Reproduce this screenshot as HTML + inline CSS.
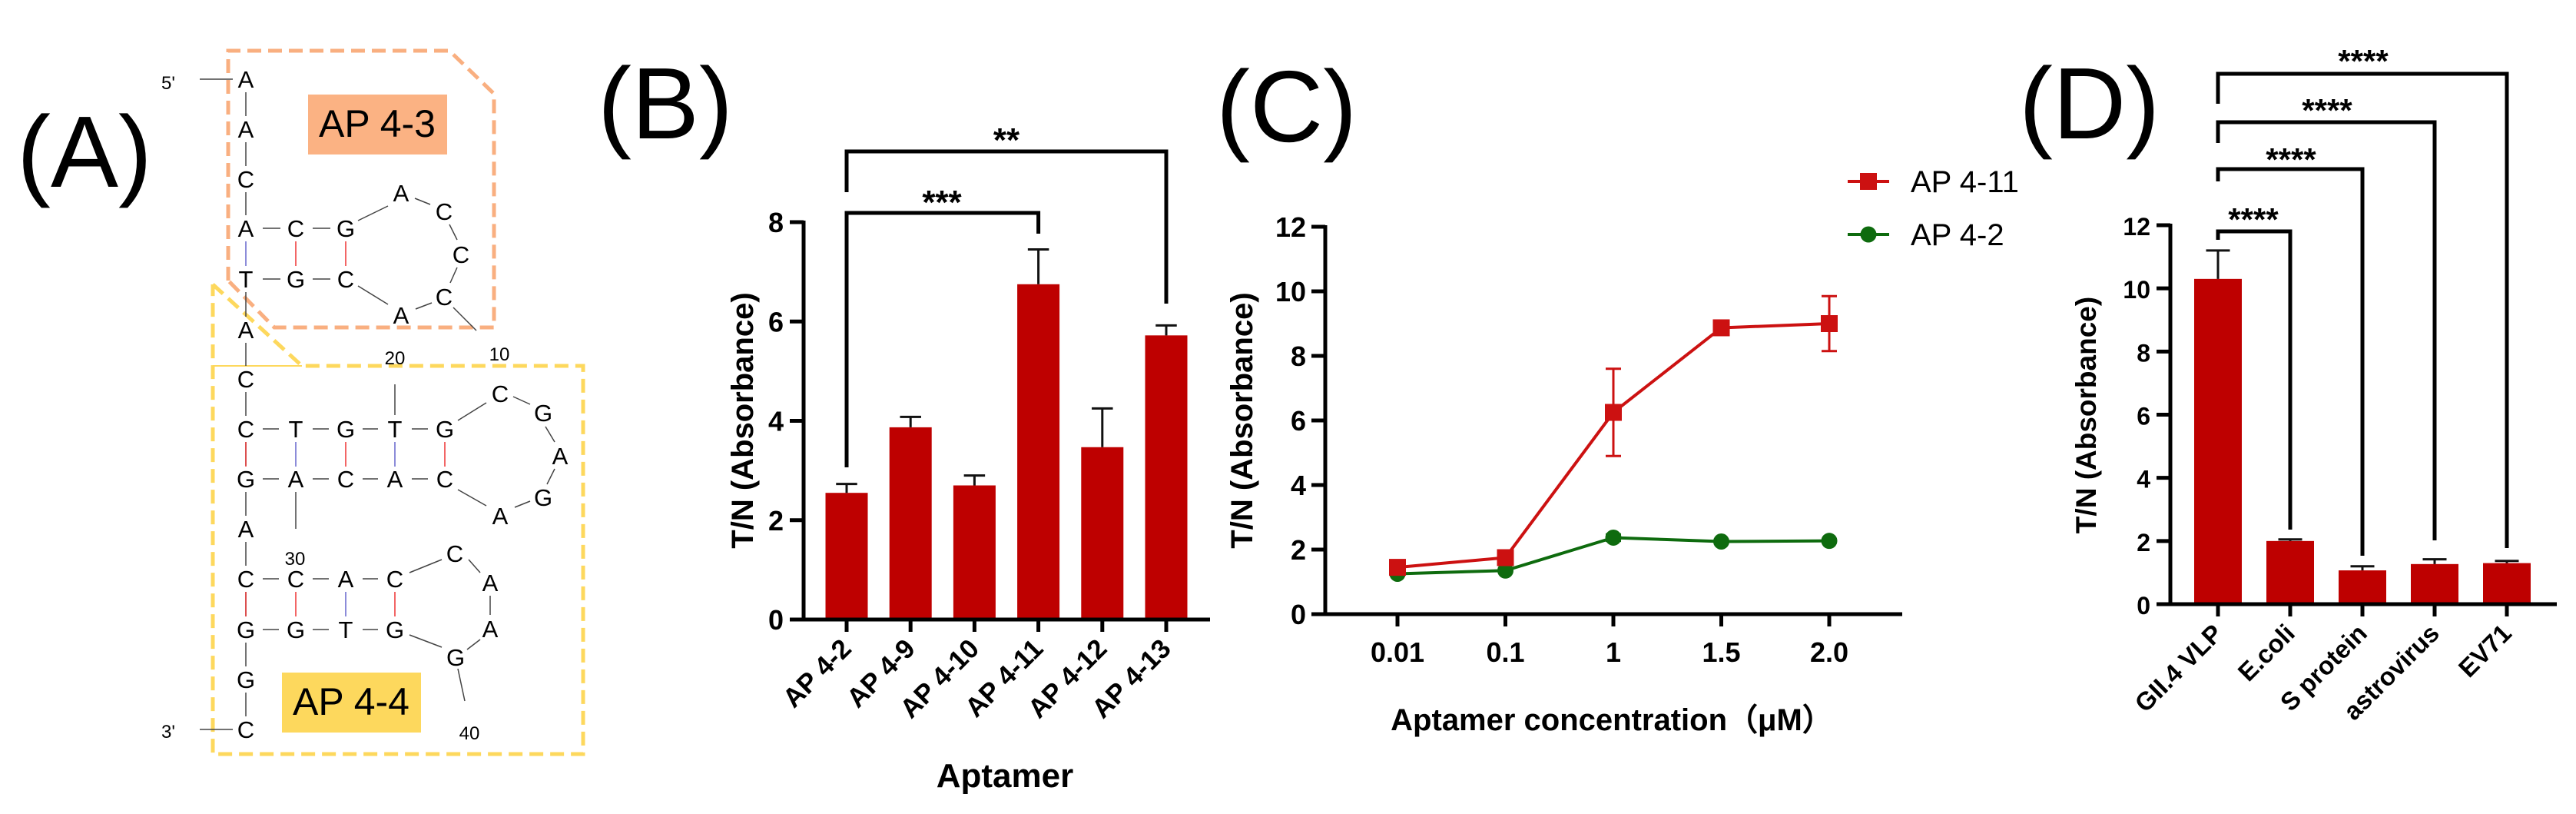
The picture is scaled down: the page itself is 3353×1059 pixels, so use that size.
<!DOCTYPE html>
<html><head><meta charset="utf-8"><style>
html,body{margin:0;padding:0;background:#fff;}
svg{display:block;}
text{font-family:"Liberation Sans",Arial,sans-serif;}
</style></head><body>
<svg id="fig" width="3353" height="1059" viewBox="0 0 3353 1059" xmlns="http://www.w3.org/2000/svg">
<rect width="3353" height="1059" fill="#fff"/>
<text x="22" y="243" font-size="132">(A)</text>
<text x="778" y="180" font-size="132">(B)</text>
<text x="1583" y="184" font-size="132">(C)</text>
<text x="2628" y="180" font-size="132">(D)</text>

<g id="panelA">
  <polyline points="297,365 297,66 585,66 643,122 643,426 357,426 297,365" fill="none" stroke="#F9AF80" stroke-width="5" stroke-dasharray="18,9"/>
  <polyline points="277,370 393,476 759,476 759,981 277,981 277,370" fill="none" stroke="#FDD85D" stroke-width="5" stroke-dasharray="18,9"/>
  <line x1="277" y1="476" x2="393" y2="476" stroke="#FDD85D" stroke-width="2"/>
  <rect x="401" y="123" width="181" height="78" fill="#FBB283"/>
  <text x="491" y="178" font-size="50" text-anchor="middle">AP 4-3</text>
  <rect x="367" y="875" width="181" height="78" fill="#FDD85D"/>
  <text x="457" y="930" font-size="50" text-anchor="middle">AP 4-4</text>
  <g id="seqA" stroke="#444" stroke-width="1.5"></g>
</g>

<g id="panelB"></g>
<g id="panelC"></g>
<g id="panelD"></g>
</svg>
<script>
const bCategories = ["AP 4-2","AP 4-9","AP 4-10","AP 4-11","AP 4-12","AP 4-13"];
const bValues = [2.55, 3.87, 2.70, 6.75, 3.47, 5.72];
const bErrors = [0.18, 0.21, 0.20, 0.70, 0.78, 0.20];
const bTicks = [0, 2, 4, 6, 8];
const cCategories = ["0.01","0.1","1","1.5","2.0"];
const cRed = [1.45, 1.75, 6.25, 8.87, 9.00];
const cRedErr = [0.1, 0.1, 1.35, 0.1, 0.85];
const cGreen = [1.25, 1.35, 2.37, 2.25, 2.27];
const cGreenErr = [0.05, 0.05, 0.1, 0.05, 0.05];
const cTicks = [0, 2, 4, 6, 8, 10, 12];
const dCategories = ["GII.4 VLP","E.coli","S protein","astrovirus","EV71"];
const dValues = [10.3, 2.0, 1.07, 1.27, 1.3];
const dErrors = [0.9, 0.05, 0.13, 0.15, 0.07];
const dTicks = [0, 2, 4, 6, 8, 10, 12];

const NS = "http://www.w3.org/2000/svg";
function mk(parent, tag, attrs, txt){
  const e = document.createElementNS(NS, tag);
  for (const k in attrs) e.setAttribute(k, attrs[k]);
  if (txt !== undefined) e.textContent = txt;
  parent.appendChild(e);
  return e;
}

(function(){
  const g = document.getElementById('seqA');
  const P = document.getElementById('panelA');
  const col = [320,385,450,514,579];
  const rows = ["A","A","C","A","T","A","C","C","G","A","C","G","G","C"];
  const ry = [103,168,233,297,363,429,493,558,623,688,753,819,884,949];
  function L(x1,y1,x2,y2,c){ const l=mk(g,'line',{x1,y1,x2,y2}); if(c) l.setAttribute('stroke',c); }
  function T(x,y,s,fs){ const t=mk(P,'text',{x:x,y:y+11,'font-size':fs||31,'text-anchor':'middle'},s);
    
     }
  rows.forEach((s,i)=>{ T(col[0],ry[i],s); if(i<rows.length-1 && i!==3) L(col[0],ry[i]+17,col[0],ry[i+1]-17); });
  T(385,297,"C");T(450,297,"G");T(385,363,"G");T(450,363,"C");
  L(342,297,365,297);L(407,297,430,297);L(342,363,365,363);L(407,363,430,363);
  L(320,314,320,346,"#6666cc");L(385,314,385,346,"#e33");L(450,314,450,346,"#e33");
  T(522,251,"A");T(578,275,"C");T(600,331,"C");T(578,386,"C");T(522,410,"A");
  L(466,287,505,268);L(540,258,560,266);L(585,292,595,312);L(595,348,586,368);L(562,394,541,402);L(466,372,505,396);L(590,400,620,430);
  T(514,463,"20",24);T(650,458,"10",24);L(514,500,514,540);
  [["T","G","T","G"],["A","C","A","C"]].forEach((r,ri)=>{ const y=ri?623:558; r.forEach((s,j)=>T(col[j+1],y,s)); for(let j=0;j<4;j++) L(col[j]+22,y,col[j+1]-22,y); });
  L(320,575,320,607,"#e33");L(385,575,385,607,"#6666cc");L(450,575,450,607,"#e33");L(514,575,514,607,"#6666cc");L(579,575,579,607,"#e33");
  T(651,512,"C");T(707,537,"G");T(729,593,"A");T(707,647,"G");T(651,671,"A");
  L(596,547,633,524);L(668,516,690,526);L(710,555,722,575);L(722,610,712,630);L(690,652,670,660);L(596,637,633,658);
  L(385,640,385,688);T(384,724,"30",24);
  T(385,753,"C");T(450,753,"A");T(514,753,"C");T(385,819,"G");T(450,819,"T");T(514,819,"G");
  for(let j=0;j<3;j++){L(col[j]+22,753,col[j+1]-22,753);L(col[j]+22,819,col[j+1]-22,819);}
  L(320,770,320,802,"#e33");L(385,770,385,802,"#e33");L(450,770,450,802,"#6666cc");L(514,770,514,802,"#e33");
  T(592,720,"C");T(638,758,"A");T(638,818,"A");T(593,855,"G");
  L(533,745,575,728);L(610,728,625,745);L(638,775,638,800);L(625,832,608,845);L(533,826,575,842);L(596,870,605,912);
  T(611,951,"40",24);
  T(219,105,"5'",24);T(219,949,"3'",24);L(260,103,303,103);L(260,949,303,949);
})();

function barChart(gid, o){
  const g = document.getElementById(gid);
  const yS = v => o.y0 - (v/o.ymax)*(o.y0-o.ytop);
  const xS = i => o.x0c + i*o.step;
  o.values.forEach((v,i)=>{
    const r = mk(g,'rect',{x:xS(i)-o.bw/2,y:yS(v),width:o.bw,height:o.y0-yS(v),fill:"#BE0000"});
    
    
    const e = mk(g,'path',{d:`M${xS(i)},${yS(v)} V${yS(v+o.errs[i])} M${xS(i)-o.bw/4},${yS(v+o.errs[i])} H${xS(i)+o.bw/4}`,stroke:"#111","stroke-width":3,fill:"none"});
    
    
    mk(g,'line',{x1:xS(i),y1:o.y0,x2:xS(i),y2:o.y0+16,stroke:"#000","stroke-width":5});
    const t = mk(g,'text',{x:xS(i)+8,y:o.y0+40,'font-size':o.xfs,'font-weight':'bold','text-anchor':'end',transform:`rotate(-45 ${xS(i)+8} ${o.y0+40})`},o.cats[i]);
    
    
  });
  o.ticks.forEach(v=>{
    mk(g,'line',{x1:o.xaxis-18,y1:yS(v),x2:o.xaxis,y2:yS(v),stroke:"#000","stroke-width":5});
    const t = mk(g,'text',{x:o.xaxis-26,y:yS(v)+13,'font-size':o.tfs,'font-weight':'bold','text-anchor':'end'},v);
    
    
  });
  const ax = mk(g,'path',{d:`M${o.xaxis},${o.ytop-2} V${o.y0} H${o.xend}`,stroke:"#000","stroke-width":5,fill:"none"});
  
  
  const yt = mk(g,'text',{x:o.ytx,y:o.yty,'font-size':o.ytfs,'font-weight':'bold','text-anchor':'middle',transform:`rotate(-90 ${o.ytx} ${o.yty})`},"T/N (Absorbance)");
  
  
  return {xS,yS,g};
}

(function(){
  const c = barChart('panelB',{values:bValues,errs:bErrors,cats:bCategories,ticks:bTicks,ymax:8,y0:806,ytop:289,x0c:1102,step:83.2,bw:55,xaxis:1046,xend:1575,xfs:35,tfs:36,ytx:980,yty:547,ytfs:40});
  const g=c.g;
  const x1=c.xS(0), x4=c.xS(3), x6=c.xS(5);
  mk(g,'path',{d:`M${x1},608 V277 H${x4} V304`,stroke:"#000","stroke-width":5,fill:"none"});
  mk(g,'path',{d:`M${x1},250 V197 H${x6} V395`,stroke:"#000","stroke-width":5,fill:"none"});
  let s=mk(g,'text',{x:1226,y:278,'font-size':44,'font-weight':'bold','text-anchor':'middle'},"***");
  
  
  s=mk(g,'text',{x:1310,y:197,'font-size':44,'font-weight':'bold','text-anchor':'middle'},"**");
  
  
  const xt=mk(g,'text',{x:1308,y:1024,'font-size':44,'font-weight':'bold','text-anchor':'middle'},"Aptamer");
  
  
})();

(function(){
  const g=document.getElementById('panelC');
  const y0=799, ytop=295, ymax=12;
  const yS=v=>y0-(v/ymax)*(y0-ytop);
  const xS=i=>1819+i*140.5;
  cTicks.forEach(v=>{
    mk(g,'line',{x1:1707,y1:yS(v),x2:1725,y2:yS(v),stroke:"#000","stroke-width":5});
    const t=mk(g,'text',{x:1700,y:yS(v)+13,'font-size':36,'font-weight':'bold','text-anchor':'end'},v);
    
    
  });
  cCategories.forEach((c,i)=>{
    mk(g,'line',{x1:xS(i),y1:y0,x2:xS(i),y2:y0+16,stroke:"#000","stroke-width":5});
    const t=mk(g,'text',{x:xS(i),y:861,'font-size':36,'font-weight':'bold','text-anchor':'middle'},c);
    
    
  });
  const ax=mk(g,'path',{d:`M1725,${ytop-2} V${y0} H2476`,stroke:"#000","stroke-width":5,fill:"none"});
  
  
  function series(vals,errs,color,sq,name){
    const pl=mk(g,'polyline',{points:vals.map((v,i)=>xS(i)+','+yS(v)).join(' '),fill:'none',stroke:color,'stroke-width':4});
    
    
    vals.forEach((v,i)=>{
      const e=mk(g,'path',{d:`M${xS(i)},${yS(v-errs[i])} V${yS(v+errs[i])} M${xS(i)-10},${yS(v-errs[i])} H${xS(i)+10} M${xS(i)-10},${yS(v+errs[i])} H${xS(i)+10}`,stroke:color,'stroke-width':3,fill:'none'});
      
      
      const m = sq ? mk(g,'rect',{x:xS(i)-11,y:yS(v)-11,width:22,height:22,fill:color}) : mk(g,'circle',{cx:xS(i),cy:yS(v),r:10.5,fill:color});
      
      
    });
  }
  series(cGreen,cGreenErr,"#0E6B0E",false,'ap4-2');
  series(cRed,cRedErr,"#CC1111",true,'ap4-11');
  mk(g,'line',{x1:2405,y1:236,x2:2459,y2:236,stroke:"#CC1111","stroke-width":4});
  mk(g,'rect',{x:2421,y:225,width:22,height:22,fill:"#CC1111"});
  let t=mk(g,'text',{x:2487,y:250,'font-size':40},"AP 4-11");
  
  
  mk(g,'line',{x1:2405,y1:305,x2:2459,y2:305,stroke:"#0E6B0E","stroke-width":4});
  mk(g,'circle',{cx:2432,cy:305,r:10.5,fill:"#0E6B0E"});
  t=mk(g,'text',{x:2487,y:319,'font-size':40},"AP 4-2");
  
  
  const yt=mk(g,'text',{x:1630,y:547,'font-size':40,'font-weight':'bold','text-anchor':'middle',transform:'rotate(-90 1630 547)'},"T/N (Absorbance)");
  
  
  const xt=mk(g,'text',{x:2098,y:950,'font-size':40,'font-weight':'bold','text-anchor':'middle'},"Aptamer concentration（μM）");
  
  
})();

(function(){
  const c = barChart('panelD',{values:dValues,errs:dErrors,cats:dCategories,ticks:dTicks,ymax:12,y0:786,ytop:293,x0c:2887,step:94,bw:62,xaxis:2825,xend:3328,xfs:33,tfs:32,ytx:2728,yty:540,ytfs:37});
  const g=c.g;
  const tops=[301,220,159,96], lefts=[312,236,186,135], rights=[689,723,703,713];
  const starX=[2933,2982,3029,3076], starY=[300,222,158,94];
  for(let k=0;k<4;k++){
    const xr=c.xS(k+1);
    mk(g,'path',{d:`M2887,${lefts[k]} V${tops[k]} H${xr} V${rights[k]}`,stroke:"#000","stroke-width":5,fill:"none"});
    const s=mk(g,'text',{x:starX[k],y:starY[k],'font-size':42,'font-weight':'bold','text-anchor':'middle'},"****");
    
    
  }
})();
</script>
</body></html>
